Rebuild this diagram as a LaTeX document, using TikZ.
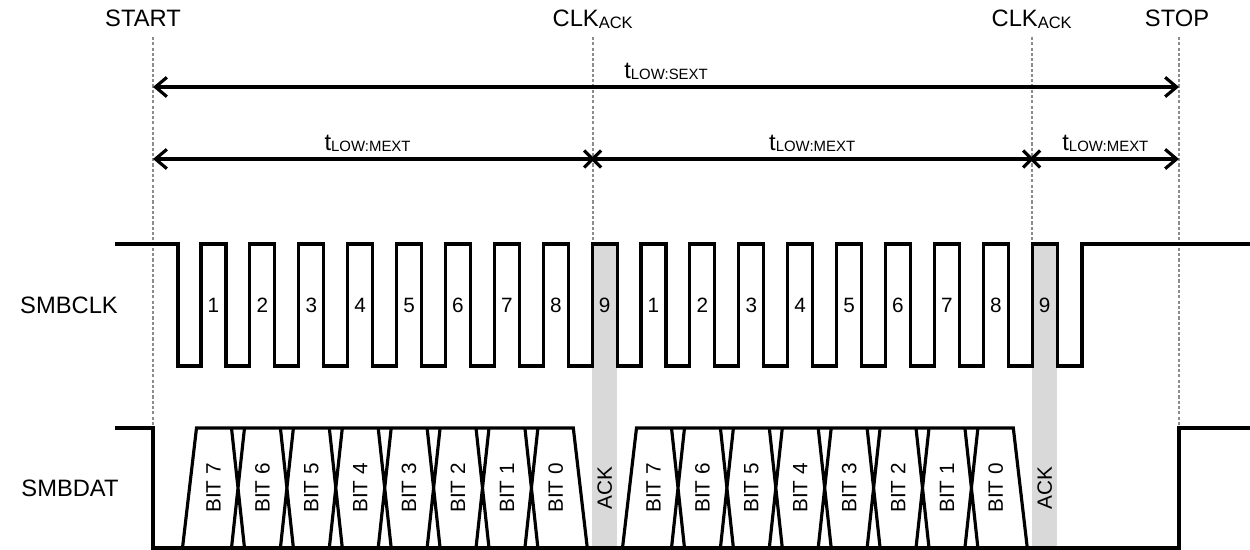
\documentclass[tikz,border=0pt]{standalone}
\usepackage{fontspec}
\setmainfont{Liberation Sans}
\usetikzlibrary{arrows.meta}
\newcommand{\lowsub}[2][8.5]{\raisebox{-1pt}{\fontsize{#1}{#1}\selectfont #2}}

\begin{document}
\begin{tikzpicture}[x=0.02cm,y=-0.02cm,
    sig/.style={line width=1.8pt,line join=miter},
    marker/.style={black!45,line width=1pt,dash pattern=on 1.8pt off 1.2pt},
    dim/.style={line width=1.8pt,{Straight Barb[length=6.5pt,width=11pt]}-{Straight Barb[length=6.5pt,width=11pt]}},
    big/.style={font=\fontsize{13.5}{15}\selectfont},
    small/.style={font=\fontsize{11.8}{13}\selectfont},
    ackbar/.style={fill=black!15}]
    \useasboundingbox (0,0) rectangle (1250,550);
    \coordinate (start) at (153,37);
    \coordinate (ack1) at (592.7,37);
    \coordinate (ack2) at (1031.7,37);
    \coordinate (stop) at (1179,37);
    \coordinate (sext) at (0,87);
    \coordinate (mext) at (0,159);
    \coordinate (clkhi) at (0,244);
    \coordinate (datahi) at (0,428);
    % labels on top
    \node[big,anchor=base] (lblstart) at (143,27) {START};
    \node[big,anchor=base] (lblack1) at (592.7,27) {CLK\lowsub[9.4]{ACK}};
    \node[big,anchor=base] (lblack2) at (1031.7,27) {CLK\lowsub[9.4]{ACK}};
    \node[big,anchor=base] (lblstop) at (1177,27) {STOP};
    \node[big] (smbclk) at (69,305) {SMBCLK};
    \node[big] (smbdat) at (70,488) {SMBDAT};
    % shaded ack bits
    \fill[ackbar] (592.2,244) rectangle (617.2,548);
    \fill[ackbar] (1032.2,244) rectangle (1057.2,548);
    % markers
    \draw[marker] (start) -- (start |- datahi);
    \draw[marker] (ack1) -- (ack1 |- clkhi);
    \draw[marker] (ack2) -- (ack2 |- clkhi);
    \draw[marker] (stop) -- (stop |- datahi);
    % timings
    \draw[dim] (start |- sext) -- node[big,anchor=base,yshift=5pt] (sextlbl) {t\lowsub{LOW:SEXT}} (stop |- sext);
    \draw[dim] (start |- mext)
      -- node[big,anchor=base,yshift=5pt,xshift=-3pt] (mext1) {t\lowsub{LOW:MEXT}} (ack1 |- mext)
      -- node[big,anchor=base,yshift=5pt] (mext2) {t\lowsub{LOW:MEXT}} (ack2 |- mext)
      -- node[big,anchor=base,yshift=5pt] (mext3) {t\lowsub{LOW:MEXT}} (stop |- mext);
    \foreach \c in {ack1,ack2}
      \draw[line width=1.8pt] (\c |- mext) +(-8.5,-8.5) -- +(8.5,8.5) (\c |- mext) +(-8.5,8.5) -- +(8.5,-8.5);
    % SMBCLK
    \draw[sig] (115,244) -- (178,244) -- (178,366)
      \foreach \b in {201,641} {\foreach \k in {0,...,8} {
        -- ({\b+48.9*\k},366) -- ({\b+48.9*\k},244) -- ({\b+48.9*\k+25},244) -- ({\b+48.9*\k+25},366)}}
      -- (1082,366) -- (1082,244) -- (1250,244);
    \foreach \b in {201,641}
      \foreach \k [count=\n from 1] in {0,...,8}
        \node[small] at ({\b+48.9*\k+12.5},305) {\n};
    % SMBDAT
    \draw[sig] (115,428) -- (start |- datahi) -- (153,548) -- (1179,548) -- (stop |- datahi) -- (1250,428);
    \foreach \b in {201,641} {
      \draw[sig] ({\b-18.5},548) -- ({\b-4.5},428) -- ({\b+372.3},428) -- ({\b+386.3},548);
      \foreach \k in {0,...,6}
        \draw[sig] ({\b+30.5+48.9*\k},428) -- ({\b+43.5+48.9*\k},548)
          ({\b+43.5+48.9*\k},428) -- ({\b+30.5+48.9*\k},548);
      \foreach \k [evaluate=\k as \n using int(7-\k)] in {0,...,7}
        \node[small,rotate=90] at ({\b+12.5+48.9*\k},488) {BIT \n};
    }
    \node[small,rotate=90] (ackdat1) at (604.7,488) {ACK};
    \node[small,rotate=90] (ackdat2) at (1044.7,488) {ACK};
\end{tikzpicture}
\end{document}
